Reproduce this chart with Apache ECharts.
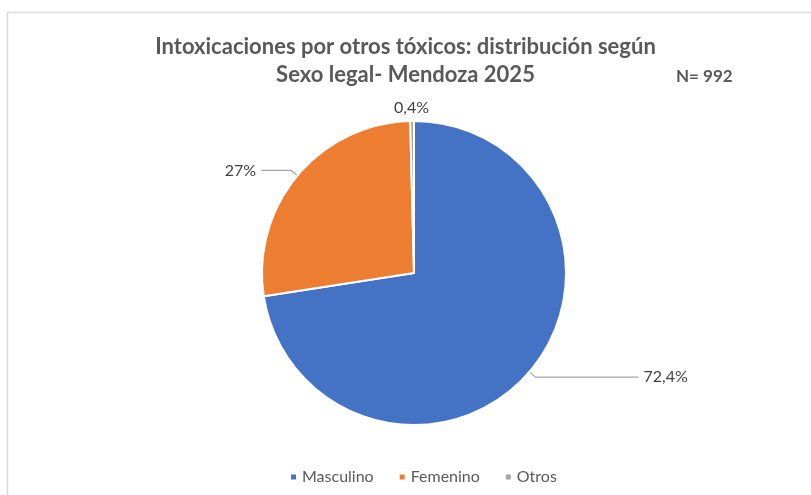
<!DOCTYPE html>
<html>
<head>
<meta charset="utf-8">
<script src="https://cdn.jsdelivr.net/npm/echarts@6/dist/echarts.min.js"></script>
<style>
  html, body { margin: 0; padding: 0; background: #fff; }
  #main { width: 811px; height: 495px; }
</style>
</head>
<body>
<div id="main"></div>
<script>
var categories = ['Masculino', 'Femenino', 'Otros'];
var percentages = [72.4, 27, 0.4];
var colors = ['#4472C4', '#ED7D31', '#A5A5A5'];

var myChart = echarts.init(document.getElementById('main'));

// label lines differ per slice, like the original
var lines = [
  { length: 8, length2: 103 },
  { length: 8, length2: 30 },
  { show: false, length: 6, length2: 0 }
];

var pieData = categories.map(function (name, i) {
  return {
    name: name,
    value: percentages[i],
    itemStyle: { color: colors[i] },
    labelLine: lines[i]
  };
});

var option = {
  backgroundColor: '#fff',
  animation: false,
  title: [{
    text: 'Intoxicaciones por otros tóxicos: distribución según\nSexo legal- Mendoza 2025',
    left: 'center',
    top: 28,
    textStyle: {
      fontFamily: 'Lato',
      fontSize: 22,
      fontWeight: 'bold',
      color: '#595959',
      lineHeight: 28
    }
  }, {
    text: 'N= 992',
    left: 671,
    top: 63,
    textStyle: {
      fontFamily: 'Lato',
      fontSize: 17,
      fontWeight: 'bold',
      color: '#595959'
    }
  }],
  graphic: [{
    type: 'rect',
    shape: { x: 7.5, y: 12.5, width: 830, height: 520 },
    style: { fill: 'none', stroke: '#d9d9d9', lineWidth: 1.5 },
    silent: true
  }],
  legend: {
    data: categories,
    bottom: 5,
    left: 284,
    icon: 'rect',
    itemWidth: 7,
    itemHeight: 7,
    itemGap: 24,
    textStyle: { fontFamily: 'Lato', fontSize: 16, color: '#595959' }
  },
  series: [{
    type: 'pie',
    center: [414, 273],
    radius: 152,
    startAngle: 90,
    clockwise: true,
    itemStyle: { borderColor: '#fff', borderWidth: 2 },
    label: {
      show: true,
      position: 'outside',
      fontFamily: 'Lato',
      fontSize: 16,
      color: '#404040',
      formatter: function (p) {
        return String(p.value).replace('.', ',') + '%';
      }
    },
    labelLine: {
      lineStyle: { color: '#A6A6A6', width: 1.2 }
    },
    labelLayout: function (params) {
      if (params.dataIndex === 2) {
        return { dx: 22, dy: -7 };
      }
    },
    data: pieData
  }]
};

myChart.setOption(option);
</script>
</body>
</html>
